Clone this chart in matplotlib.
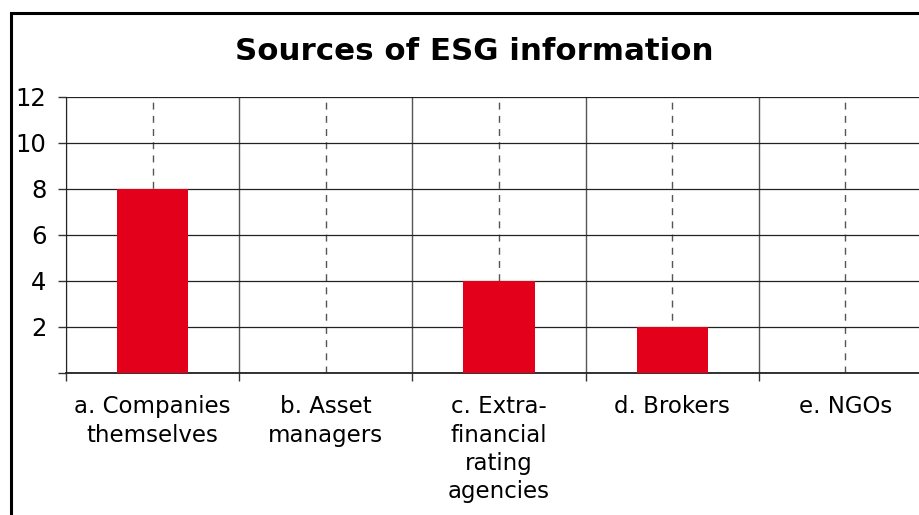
import matplotlib
matplotlib.use("Agg")
import matplotlib.pyplot as plt
from matplotlib.patches import Rectangle

categories = ["a. Companies\nthemselves", "b. Asset\nmanagers", "c. Extra-\nfinancial\nrating\nagencies", "d. Brokers", "e. NGOs"]
values = [8, 0, 4, 2, 0]
yticks = [0, 2, 4, 6, 8, 10, 12]
ytick_labels = ["", "2", "4", "6", "8", "10", "12"]
title = "Sources of ESG information"

plt.rcParams['font.family'] = ['DejaVu Sans']

fig = plt.figure(figsize=(9.2, 5.15), dpi=100)
W, H = 920, 515
ax = fig.add_axes([66 / W, 1 - 373 / H, (932 - 66) / W, (373 - 97) / H])

x = list(range(len(categories)))
ax.bar(x, values, width=0.41, color="#E2001A", zorder=3)

ax.set_xlim(-0.5, len(categories) - 0.5)
ax.set_ylim(0, 12)
ax.set_yticks(yticks)
ax.set_yticklabels(ytick_labels, fontsize=17.5)
ax.tick_params(axis='y', direction='out', length=6, width=1, pad=8, color="#333333")

ax.set_xticks(x)
ax.set_xticklabels(categories, fontsize=16.5, linespacing=1.3, va='top')
ax.tick_params(axis='x', which='major', length=0, pad=16)
ax.set_xticks([i - 0.5 for i in range(len(categories) + 1)], minor=True)
ax.tick_params(axis='x', which='minor', direction='out', length=6, width=1, color="#333333")

ax.grid(axis='y', color="#222222", linewidth=0.9, zorder=1)
ax.grid(axis='x', which='major', color="#555555", linewidth=1.0, linestyle=(0, (5, 4.5)), zorder=1)
ax.grid(axis='x', which='minor', color="#555555", linewidth=1.0, zorder=1)
ax.set_axisbelow(True)

for s in ['top', 'right']:
    ax.spines[s].set_visible(False)
ax.spines['left'].set_color("#222222")
ax.spines['bottom'].set_color("#222222")
ax.spines['bottom'].set_linewidth(1.3)

fig.text(474 / W, 1 - 52 / H, title, fontsize=22.2, fontweight='bold', ha='center', va='center')

fig.patches.append(Rectangle((11 / W, -0.1), 1.2, (1 - 13 / H) + 0.1, transform=fig.transFigure,
                             fill=False, edgecolor="black", linewidth=2.2))

fig.savefig("out.png", dpi=100)
